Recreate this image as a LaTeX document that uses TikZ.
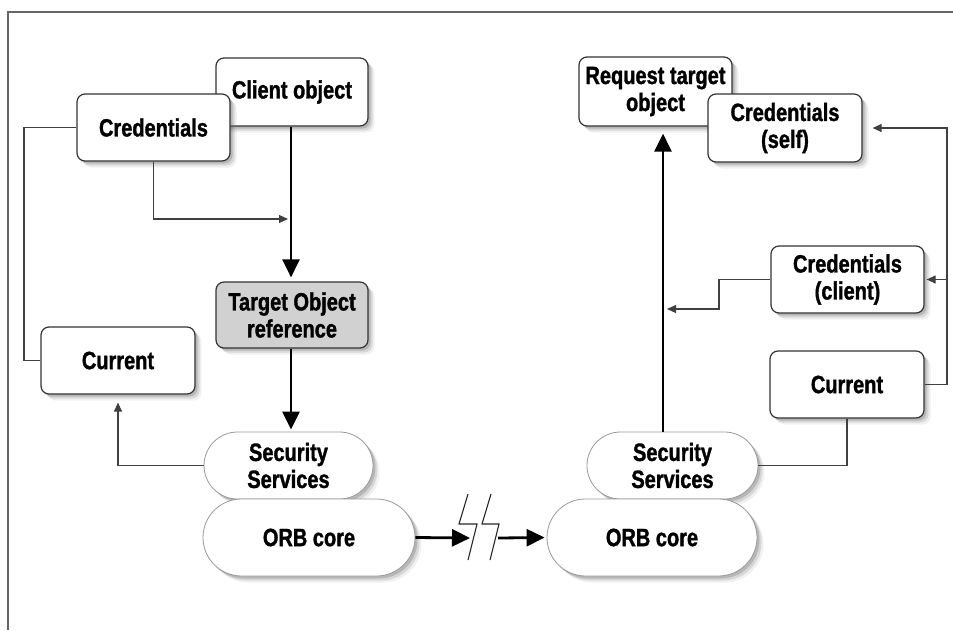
\documentclass[tikz,border=0pt]{standalone}
\usepackage{fontspec}
\setmainfont{Liberation Sans}[FakeStretch=0.8,BoldFeatures={FakeBold=1.3}]
\usetikzlibrary{shapes.misc,shadows,arrows.meta}
\begin{document}
\begin{tikzpicture}[x=1pt,y=-1pt,
  softshadow/.style={
    drop shadow={shadow xshift=2.5pt,shadow yshift=-2.5pt,opacity=0.25,fill=black!70},
    drop shadow={shadow xshift=4.5pt,shadow yshift=-4.5pt,opacity=0.18,fill=black!60},
    drop shadow={shadow xshift=6.5pt,shadow yshift=-6.5pt,opacity=0.12,fill=black!50}},
  lbl/.style={font=\bfseries\fontsize{25}{27}\selectfont,align=center,inner sep=0pt},
  boxnode/.style={lbl,draw=black!80,line width=1.2pt,rounded corners=8pt,fill=white,softshadow},
  pill/.style={lbl,rounded rectangle,draw=black!40,line width=0.8pt,fill=white,softshadow},
  thinline/.style={draw=black!75,line width=1.1pt},
  thinarrow/.style={thinline,-{Triangle[width=8pt,length=9pt]}},
  thickarrow/.style={draw=black,line width=2.8pt,-{Triangle[width=17pt,length=18pt]}}
]
\useasboundingbox (0,0) rectangle (953,630);
% frame
\draw[black!60,line width=1.4pt] (8,630) -- (8,12) -- (953,12);

% left side nodes
\node[boxnode,minimum width=152pt,minimum height=68pt] (client) at (292,92) {Client object};
\node[boxnode,minimum width=153pt,minimum height=67pt] (credL) at (153.5,127.5) {Credentials};
\node[boxnode,minimum width=152pt,minimum height=66pt,fill=black!18] (target) at (292,315) {Target Object\\reference};
\node[boxnode,minimum width=154pt,minimum height=67pt] (currentL) at (118,360.5) {Current};
\node[pill,minimum width=169pt,minimum height=67pt] (ssL) at (288.5,465.5) {Security\\Services};
\node[pill,minimum width=212pt,minimum height=77pt] (orbL) at (309,537.5) {ORB core};

% right side nodes
\node[boxnode,minimum width=153pt,minimum height=69pt] (reqT) at (655.5,91.5) {Request target\\object};
\node[boxnode,minimum width=154pt,minimum height=68pt] (credSelf) at (785,128) {Credentials\\(self)};
\node[boxnode,minimum width=153pt,minimum height=67pt] (credClient) at (847.5,279.5) {Credentials\\(client)};
\node[boxnode,minimum width=154pt,minimum height=67pt] (currentR) at (847,384.5) {Current};
\node[pill,minimum width=171pt,minimum height=67pt] (ssR) at (672.5,465.5) {Security\\Services};
\node[pill,minimum width=210pt,minimum height=77pt] (orbR) at (652,537.5) {ORB core};

% helper coordinates
\coordinate (lbus) at (24,0);
\coordinate (j1) at (291,219);
\coordinate (mainL) at (291,0);
\coordinate (mainR) at (663,0);
\coordinate (j2) at (719,309);
\coordinate (rbus) at (947,0);
\coordinate (brk1) at (470,538);
\coordinate (brk2) at (498,538);

% left connectors
\draw[thinline] (credL.west) -- (credL.west -| lbus) |- (currentL.west);
\draw[thinarrow,shorten >=3pt] (credL.south) |- (j1);
\draw[thickarrow,shorten >=4pt] (client.south -| mainL) -- (target.north -| mainL);
\draw[thickarrow,shorten >=2pt] (target.south -| mainL) -- (ssL.north -| mainL);
\draw[thinarrow,shorten >=8pt] (ssL.west) -| (currentL.south);
\draw[thickarrow] (orbL.east) -- (brk1);

% break symbol
\draw[black!85,line width=1.1pt] (468,494) -- (459,524) -- (477,524) -- (468,560);
\draw[black!85,line width=1.1pt] (491,494) -- (482,524) -- (499,524) -- (490,560);
\draw[thickarrow,shorten >=2pt] (brk2) -- (orbR.west);

% right connectors
\draw[thickarrow,shorten >=7pt] (ssR.north -| mainR) -- (reqT.south -| mainR);
\draw[thinarrow,shorten >=4pt] (credClient.west) -| (j2) -- (j2 -| mainR);
\draw[thinarrow,shorten >=10pt] (currentR.east) -| (credSelf.east -| rbus) -- (credSelf.east);
\draw[thinarrow,shorten >=2pt] (credClient.east -| rbus) -- (credClient.east);
\draw[thinline] (currentR.south) |- (ssR.east);
\end{tikzpicture}
\end{document}
